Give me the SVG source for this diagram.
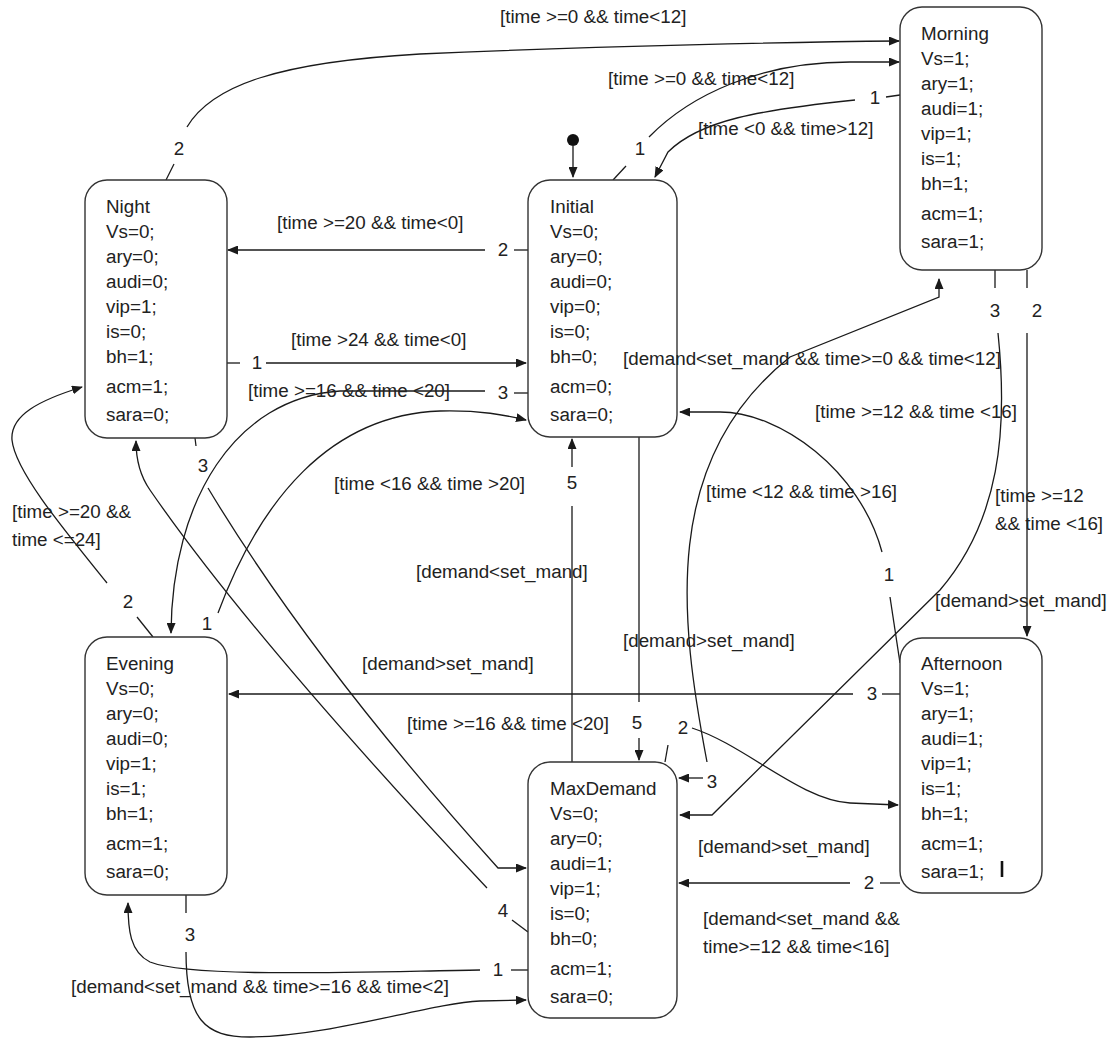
<svg xmlns="http://www.w3.org/2000/svg" width="1115" height="1043" viewBox="0 0 1115 1043">
<defs>
<marker id="ah" markerWidth="11" markerHeight="9" refX="10" refY="4.5" orient="auto" markerUnits="userSpaceOnUse">
<path d="M0,0 L11,4.5 L0,9 z" fill="#1a1a1a"/>
</marker>
<style>
.box{fill:#fff;stroke:#333;stroke-width:1.4}
.t{font-family:"Liberation Sans",Arial,sans-serif;font-size:18.8px;fill:#222}
.c{fill:none;stroke:#1a1a1a;stroke-width:1.3}
.m{text-anchor:middle}
</style>
</defs>
<rect width="1115" height="1043" fill="#fff"/>

<g id="connectors">
<!-- initial pseudo state -->
<circle cx="573" cy="140" r="6" fill="#111"/>
<path class="c" d="M573,146 L573,177" marker-end="url(#ah)"/>
<!-- Night -> Morning (2) -->
<path class="c" d="M166,180 L174,164"/>
<path class="c" d="M187,127 C212,85 280,62 420,54 C600,46 800,42 899,41" marker-end="url(#ah)"/>
<!-- Initial -> Morning (1) -->
<path class="c" d="M613,180 L626,166"/>
<path class="c" d="M649,137 C690,95 760,62 850,62 L899,62" marker-end="url(#ah)"/>
<!-- Morning -> Initial (1) -->
<path class="c" d="M900,95 L886,97"/>
<path class="c" d="M855,100 C760,110 700,120 668,152 L655,177" marker-end="url(#ah)"/>
<!-- Initial -> Night (2) -->
<path class="c" d="M528,250 L514,250"/>
<path class="c" d="M485,250 L228,250" marker-end="url(#ah)"/>
<!-- Night -> Initial (1) -->
<path class="c" d="M227,363 L240,363"/>
<path class="c" d="M266,363 L526,363" marker-end="url(#ah)"/>
<!-- Initial -> Evening (3) -->
<path class="c" d="M528,393 L514,393"/>
<path class="c" d="M485,391 L340,391 C235,398 172,500 171,633" marker-end="url(#ah)"/>
<!-- Night -> MaxDemand (3) -->
<path class="c" d="M195,438 L196,446"/>
<path class="c" d="M208,488 Q312,661 498,868 L526,868" marker-end="url(#ah)"/>
<!-- MaxDemand -> Night (4) -->
<path class="c" d="M528,932 L512,920"/>
<path class="c" d="M487,888 Q252,638 150,490 Q136,470 136,441" marker-end="url(#ah)"/>
<!-- Evening -> Night (2) -->
<path class="c" d="M153,637 L137,617"/>
<path class="c" d="M107,583 C60,525 15,470 12,440 C10,415 40,400 82,387" marker-end="url(#ah)"/>
<!-- Evening -> Initial (1) -->
<path class="c" d="M218,613 C260,500 330,415 440,411 C480,410 505,415 526,420" marker-end="url(#ah)"/>
<!-- Initial -> MaxDemand (5) -->
<path class="c" d="M639,437 L639,702"/>
<path class="c" d="M639,738 L639,760" marker-end="url(#ah)"/>
<!-- MaxDemand -> Initial (5) -->
<path class="c" d="M572,762 L572,506"/>
<path class="c" d="M572,467 L572,439" marker-end="url(#ah)"/>
<!-- MaxDemand -> Morning -->
<path class="c" d="M707,762 C680,620 660,460 790,357 L939,297 L939,279" marker-end="url(#ah)"/>
<path class="c" d="M703,778 L679,778" marker-end="url(#ah)"/>
<!-- Morning -> MaxDemand (3) -->
<path class="c" d="M995,270 L995,288"/>
<path class="c" d="M998,333 C1008,430 1000,520 940,590 L712,815 L680,815" marker-end="url(#ah)"/>
<!-- Morning -> Afternoon (2) -->
<path class="c" d="M1027,270 L1027,288"/>
<path class="c" d="M1027,333 L1027,636" marker-end="url(#ah)"/>
<!-- Afternoon -> Initial (1) -->
<path class="c" d="M900,663 L890,597"/>
<path class="c" d="M882,552 C860,470 780,412 720,412 L680,412" marker-end="url(#ah)"/>
<!-- Afternoon -> Evening (3) -->
<path class="c" d="M900,694 L882,694"/>
<path class="c" d="M853,694 L229,694" marker-end="url(#ah)"/>
<!-- MaxDemand -> Afternoon (2) -->
<path class="c" d="M665,762 L668,745"/>
<path class="c" d="M692,728 C745,745 800,800 850,803 L898,805" marker-end="url(#ah)"/>
<!-- Afternoon -> MaxDemand (2) -->
<path class="c" d="M900,883 L880,883"/>
<path class="c" d="M850,883 L679,883" marker-end="url(#ah)"/>
<!-- Evening -> MaxDemand (3) -->
<path class="c" d="M186,895 L186,913"/>
<path class="c" d="M186,952 C186,1020 205,1037 250,1037 C330,1037 430,1003 480,1001 L526,1000" marker-end="url(#ah)"/>
<!-- MaxDemand -> Evening (1) -->
<path class="c" d="M528,970 L511,970"/>
<path class="c" d="M480,970 C350,972 190,978 150,962 C130,952 128,930 128,903" marker-end="url(#ah)"/>
</g>

<g id="node-morning">
<rect class="box" x="900" y="7" width="142" height="263" rx="22"/>
<text class="t" x="921" y="40">Morning</text>
<text class="t" x="921" y="65">Vs=1;</text>
<text class="t" x="921" y="90">ary=1;</text>
<text class="t" x="921" y="115">audi=1;</text>
<text class="t" x="921" y="140">vip=1;</text>
<text class="t" x="921" y="165">is=1;</text>
<text class="t" x="921" y="190">bh=1;</text>
<text class="t" x="921" y="220">acm=1;</text>
<text class="t" x="921" y="248">sara=1;</text>
</g>

<g id="node-night">
<rect class="box" x="85" y="180" width="142" height="258" rx="22"/>
<text class="t" x="106" y="213">Night</text>
<text class="t" x="106" y="238">Vs=0;</text>
<text class="t" x="106" y="263">ary=0;</text>
<text class="t" x="106" y="288">audi=0;</text>
<text class="t" x="106" y="313">vip=1;</text>
<text class="t" x="106" y="338">is=0;</text>
<text class="t" x="106" y="363">bh=1;</text>
<text class="t" x="106" y="393">acm=1;</text>
<text class="t" x="106" y="421">sara=0;</text>
</g>

<g id="node-initial">
<rect class="box" x="528" y="180" width="149" height="257" rx="22"/>
<text class="t" x="550" y="213">Initial</text>
<text class="t" x="550" y="238">Vs=0;</text>
<text class="t" x="550" y="263">ary=0;</text>
<text class="t" x="550" y="288">audi=0;</text>
<text class="t" x="550" y="313">vip=0;</text>
<text class="t" x="550" y="338">is=0;</text>
<text class="t" x="550" y="363">bh=0;</text>
<text class="t" x="550" y="393">acm=0;</text>
<text class="t" x="550" y="421">sara=0;</text>
</g>

<g id="node-evening">
<rect class="box" x="85" y="637" width="142" height="258" rx="22"/>
<text class="t" x="106" y="670">Evening</text>
<text class="t" x="106" y="695">Vs=0;</text>
<text class="t" x="106" y="720">ary=0;</text>
<text class="t" x="106" y="745">audi=0;</text>
<text class="t" x="106" y="770">vip=1;</text>
<text class="t" x="106" y="795">is=1;</text>
<text class="t" x="106" y="820">bh=1;</text>
<text class="t" x="106" y="850">acm=1;</text>
<text class="t" x="106" y="878">sara=0;</text>
</g>

<g id="node-maxdemand">
<rect class="box" x="528" y="762" width="149" height="256" rx="22"/>
<text class="t" x="550" y="795">MaxDemand</text>
<text class="t" x="550" y="820">Vs=0;</text>
<text class="t" x="550" y="845">ary=0;</text>
<text class="t" x="550" y="870">audi=1;</text>
<text class="t" x="550" y="895">vip=1;</text>
<text class="t" x="550" y="920">is=0;</text>
<text class="t" x="550" y="945">bh=0;</text>
<text class="t" x="550" y="975">acm=1;</text>
<text class="t" x="550" y="1003">sara=0;</text>
</g>

<g id="node-afternoon">
<rect class="box" x="900" y="638" width="142" height="255" rx="22"/>
<text class="t" x="921" y="670">Afternoon</text>
<text class="t" x="921" y="695">Vs=1;</text>
<text class="t" x="921" y="720">ary=1;</text>
<text class="t" x="921" y="745">audi=1;</text>
<text class="t" x="921" y="770">vip=1;</text>
<text class="t" x="921" y="795">is=1;</text>
<text class="t" x="921" y="820">bh=1;</text>
<text class="t" x="921" y="850">acm=1;</text>
<text class="t" x="921" y="878">sara=1;</text>
<line x1="1002" y1="861" x2="1002" y2="877" stroke="#111" stroke-width="2.6"/>
</g>

<g id="connector-labels" class="t">
<text x="500" y="23">[time &gt;=0 &amp;&amp; time&lt;12]</text>
<text x="608" y="85">[time &gt;=0 &amp;&amp; time&lt;12]</text>
<text x="698" y="135">[time &lt;0 &amp;&amp; time&gt;12]</text>
<text x="277" y="229">[time &gt;=20 &amp;&amp; time&lt;0]</text>
<text x="291" y="346">[time &gt;24 &amp;&amp; time&lt;0]</text>
<text x="248" y="397">[time &gt;=16  &amp;&amp; time &lt;20]</text>
<text x="623" y="365">[demand&lt;set_mand &amp;&amp; time&gt;=0 &amp;&amp; time&lt;12]</text>
<text x="815" y="418">[time &gt;=12 &amp;&amp; time &lt;16]</text>
<text x="334" y="490">[time &lt;16 &amp;&amp; time &gt;20]</text>
<text x="706" y="498">[time &lt;12 &amp;&amp; time &gt;16]</text>
<text x="995" y="502">[time &gt;=12</text>
<text x="995" y="530">&amp;&amp; time &lt;16]</text>
<text x="12" y="518">[time &gt;=20 &amp;&amp;</text>
<text x="12" y="546">time &lt;=24]</text>
<text x="416" y="578">[demand&lt;set_mand]</text>
<text x="935" y="607">[demand&gt;set_mand]</text>
<text x="623" y="647">[demand&gt;set_mand]</text>
<text x="362" y="670">[demand&gt;set_mand]</text>
<text x="407" y="730">[time &gt;=16 &amp;&amp; time &lt;20]</text>
<text x="698" y="853">[demand&gt;set_mand]</text>
<text x="703" y="925">[demand&lt;set_mand &amp;&amp;</text>
<text x="703" y="953">time&gt;=12 &amp;&amp; time&lt;16]</text>
<text x="71" y="993">[demand&lt;set_mand &amp;&amp; time&gt;=16 &amp;&amp; time&lt;2]</text>
<!-- numbers -->
<text class="m" x="179" y="155">2</text>
<text class="m" x="640" y="155">1</text>
<text class="m" x="875" y="104">1</text>
<text class="m" x="503" y="256">2</text>
<text class="m" x="257" y="369">1</text>
<text class="m" x="503" y="399">3</text>
<text class="m" x="203" y="472">3</text>
<text class="m" x="503" y="917">4</text>
<text class="m" x="128" y="608">2</text>
<text class="m" x="207" y="630">1</text>
<text class="m" x="637" y="729">5</text>
<text class="m" x="572" y="489">5</text>
<text class="m" x="712" y="788">3</text>
<text class="m" x="995" y="317">3</text>
<text class="m" x="1037" y="317">2</text>
<text class="m" x="889" y="581">1</text>
<text class="m" x="872" y="700">3</text>
<text class="m" x="683" y="734">2</text>
<text class="m" x="869" y="889">2</text>
<text class="m" x="190" y="941">3</text>
<text class="m" x="498" y="976">1</text>
</g>
</svg>
